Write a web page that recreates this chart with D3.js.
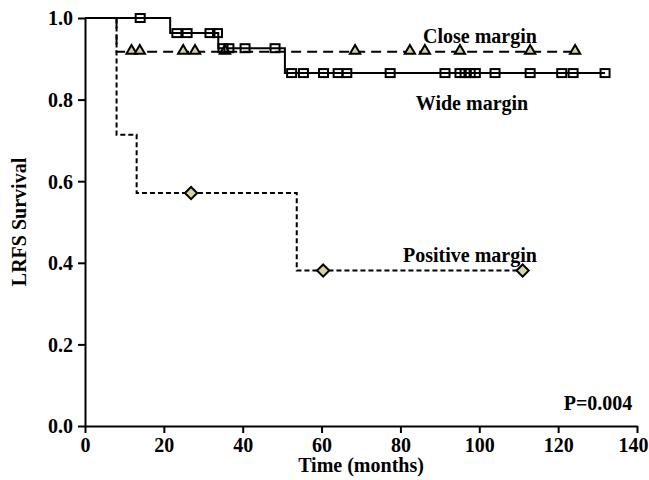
<!DOCTYPE html>
<html>
<head>
<meta charset="utf-8">
<script src="https://cdn.jsdelivr.net/npm/d3@7"></script>
<style>
  html, body { margin: 0; padding: 0; background: #fff; }
  svg { display: block; font-family: "Liberation Serif", "Times New Roman", serif; font-weight: bold; }
</style>
</head>
<body>
<svg id="chart" width="649" height="480"></svg>
<script>
// ---- Data ----
const xTicks = [0, 20, 40, 60, 80, 100, 120, 140];
const yTicks = [0.0, 0.2, 0.4, 0.6, 0.8, 1.0];

// Wide margin (solid, open squares)
const wideStepTimes = [0, 21.6, 33.8, 50.7];
const wideStepSurv  = [1.0, 0.963, 0.926, 0.865];
const wideEnd = 131.9;
const wideCensor = [14, 23.3, 25.9, 31.7, 33.6, 35.0, 36.5, 40.6, 48.2, 52.4, 55.4, 60.5, 64.2, 66.4,
                    77.4, 91.3, 95.1, 96.4, 97.7, 99.0, 104, 112.9, 120.9, 123.8, 131.9];

// Close margin (dashed, triangles)
const closeStepTimes = [0, 8.0];
const closeStepSurv  = [1.0, 0.917];
const closeEnd = 124.3;
const closeCensor = [11.8, 13.9, 24.9, 27.9, 35.5, 68.5, 82.4, 86.2, 95.1, 112.9, 124.3];

// Positive margin (short dashed, diamonds)
const posStepTimes = [0, 8.0, 13.1, 53.7];
const posStepSurv  = [1.0, 0.714, 0.571, 0.381];
const posEnd = 111;
const posCensor = [26.9, 60.4, 111];

// ---- Layout ----
const svg = d3.select("#chart");
const x = d3.scaleLinear().domain([0, 140]).range([85, 637]);
const y = d3.scaleLinear().domain([0, 1]).range([426, 18]);
const FONT = "20px";

function survAt(times, surv, t) {
  let s = surv[0];
  for (let i = 0; i < times.length; i++) if (t >= times[i]) s = surv[i];
  return s;
}
function stepPoints(times, surv, end) {
  const pts = times.map((t, i) => [t, surv[i]]);
  pts.push([end, surv[surv.length - 1]]);
  return pts;
}
const line = d3.line().x(d => x(d[0])).y(d => y(d[1])).curve(d3.curveStepAfter);

// ---- Axes ----
const xAxis = d3.axisBottom(x).tickValues(xTicks).tickFormat(d3.format("d")).tickSizeOuter(0).tickSizeInner(7).tickPadding(3);
const yAxis = d3.axisLeft(y).tickValues(yTicks).tickFormat(d3.format(".1f")).tickSizeOuter(0).tickSizeInner(7).tickPadding(5);

const gx = svg.append("g").attr("transform", `translate(0,${y(0)})`).call(xAxis);
const gy = svg.append("g").attr("transform", `translate(${x(0)},0)`).call(yAxis);
[gx, gy].forEach(g => {
  g.selectAll("path, line").attr("stroke", "#000").attr("stroke-width", 2);
  g.selectAll("text").attr("fill", "#000").style("font-size", FONT)
    .style("font-family", "'Liberation Serif', serif").style("font-weight", "bold");
});
gx.selectAll("text").attr("dy", "0.8em");
gx.selectAll(".tick").filter(d => d === 140).select("text")
  .attr("text-anchor", "end").attr("x", 11);
gy.selectAll("text").attr("dy", "0.34em");

// Axis titles
svg.append("text").attr("x", x(70)).attr("y", 472).attr("text-anchor", "middle")
  .style("font-size", FONT).text("Time (months)");
svg.append("text").attr("transform", `translate(26,${(y(0) + y(1)) / 2}) rotate(-90)`)
  .attr("text-anchor", "middle").style("font-size", FONT).text("LRFS Survival");

// ---- Curves ----
const plot = svg.append("g");
plot.append("path").datum(stepPoints(closeStepTimes, closeStepSurv, closeEnd))
  .attr("d", line).attr("fill", "none").attr("stroke", "#000").attr("stroke-width", 2)
  .attr("stroke-dasharray", "10,6");
plot.append("path").datum(stepPoints(posStepTimes, posStepSurv, posEnd))
  .attr("d", line).attr("fill", "none").attr("stroke", "#000").attr("stroke-width", 2)
  .attr("stroke-dasharray", "5,3");
plot.append("path").datum(stepPoints(wideStepTimes, wideStepSurv, wideEnd))
  .attr("d", line).attr("fill", "none").attr("stroke", "#000").attr("stroke-width", 2);

// Markers
plot.selectAll("path.tri").data(closeCensor).enter().append("path").attr("class", "tri")
  .attr("d", d3.symbol().type(d3.symbolTriangle).size(46))
  .attr("transform", d => `translate(${x(d)},${y(survAt(closeStepTimes, closeStepSurv, d)) - 1})`)
  .attr("fill", "#d6d19c").attr("stroke", "#000").attr("stroke-width", 2);

plot.selectAll("rect.sq").data(wideCensor).enter().append("rect").attr("class", "sq")
  .attr("x", d => x(d) - 4.5).attr("y", d => y(survAt(wideStepTimes, wideStepSurv, d)) - 4)
  .attr("width", 9).attr("height", 8)
  .attr("fill", "none").attr("stroke", "#000").attr("stroke-width", 2);

plot.selectAll("path.dia").data(posCensor).enter().append("path").attr("class", "dia")
  .attr("d", d3.symbol().type(d3.symbolDiamond2).size(95))
  .attr("transform", d => `translate(${x(d)},${y(survAt(posStepTimes, posStepSurv, d))})`)
  .attr("fill", "#d9d4a2").attr("stroke", "#000").attr("stroke-width", 2);

// Labels
const labels = [
  { t: "Close margin", x: 480, y: 43 },
  { t: "Wide margin", x: 472, y: 110 },
  { t: "Positive margin", x: 470, y: 262 },
  { t: "P=0.004", x: 598, y: 410 }
];
svg.selectAll("text.lbl").data(labels).enter().append("text").attr("class", "lbl")
  .attr("x", d => d.x).attr("y", d => d.y).attr("text-anchor", "middle")
  .style("font-size", FONT).text(d => d.t);
</script>
</body>
</html>
